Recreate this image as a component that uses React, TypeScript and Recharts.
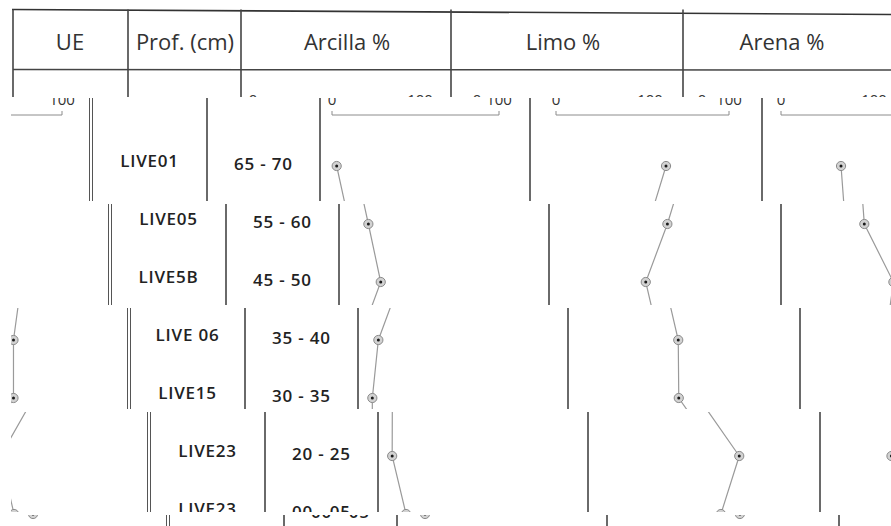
import React from 'react';
import { LineChart, Line, XAxis, YAxis } from 'recharts';

// table content
const HEADERS = ['UE', 'Prof. (cm)', 'Arcilla %', 'Limo %', 'Arena %'];
const UE = ['LIVE01', 'LIVE05', 'LIVE5B', 'LIVE 06', 'LIVE15', 'LIVE23', 'LIVE23'];
const PROF = ['65 - 70', '55 - 60', '45 - 50', '35 - 40', '30 - 35', '20 - 25', '00 - 05'];
const ARCILLA = [2.8, 10.4, 17.8, 5.0, 1.4, 1.3, 9.6];
const LIMO = [63.6, 53.4, 40.9, 48.7, 49.0, 72.4, 61.8];
const ARENA = [34.9, 37.4, 54.3, 49.7, 49.7, 30.5, 38.4];
const PCT_TICKS = [0, 100];

const rows = PROF.map((prof, i) => ({
  row: i,
  ue: UE[i],
  prof,
  arcilla: ARCILLA[i],
  limo: LIMO[i],
  arena: ARENA[i],
}));
const ROW_IDX = rows.map((r) => r.row);

// layout
const W = 891;
const H = 560;
const FONT = '"Open Sans", sans-serif';
const AXIS_Y = 115; // the 0-100 scale line
const ROW_TOP = 137;
const ROW_BOTTOM = 543;
const COL_X = [13, 128, 241, 451, 683];
const HEADER_X = [70, 185, 347, 563, 782];
const LEFT_BLANK = 11; // wrapped part of a strip starts after this blank edge

// the scan is cut into strips, each one slid to the right and wrapped round
const STRIPS = [
  { top: 0, bottom: 97, shift: 0 },
  { top: 98, bottom: 201, shift: 79 },
  { top: 204, bottom: 305, shift: 98 },
  { top: 308, bottom: 409, shift: 117 },
  { top: 412, bottom: 512, shift: 136.5 },
  { top: 515, bottom: 526, shift: 156 },
];

const Marker = (props: any) => {
  const { cx, cy } = props;
  if (cx == null || cy == null) return null;
  return (
    <g>
      <circle cx={cx} cy={cy} r={4.6} fill="#d2d2d2" stroke="#8a8a8a" strokeWidth={1} />
      <circle cx={cx} cy={cy} r={1.5} fill="#1a1a1a" />
    </g>
  );
};

const LabelColumn = ({ left, right, labels, dy }: { left: number; right: number; labels: string[]; dy: number }) => {
  const w = right - left;
  return (
    <div style={{ position: 'absolute', left, top: 0 }}>
      <LineChart
        width={w}
        height={H}
        data={rows}
        layout="vertical"
        margin={{ top: AXIS_Y, right: 0, left: 0, bottom: H - ROW_BOTTOM }}
      >
        <XAxis type="number" hide domain={[0, 100]} />
        <YAxis
          type="number"
          dataKey="row"
          domain={[-0.5, 6.5]}
          ticks={ROW_IDX}
          interval={0}
          width={w}
          padding={{ top: ROW_TOP - AXIS_Y, bottom: 0 }}
          axisLine={false}
          tickLine={false}
          tick={(p: any) => (
            <text
              key={p.index}
              x={w / 2}
              y={p.y + dy}
              textAnchor="middle"
              fontFamily={FONT}
              fontSize={17}
              fontWeight={600}
              letterSpacing={0.8}
              fill="#222"
            >
              {labels[p.payload.value]}
            </text>
          )}
        />
      </LineChart>
    </div>
  );
};

const Profile = ({ dataKey, left, right, x0, x1 }: { dataKey: string; left: number; right: number; x0: number; x1: number }) => (
  <div style={{ position: 'absolute', left, top: 0 }}>
    <LineChart
      width={right - left}
      height={H}
      data={rows}
      layout="vertical"
      margin={{ top: AXIS_Y - 30, right: right - x1, left: x0 - left, bottom: H - ROW_BOTTOM }}
    >
      <XAxis
        type="number"
        orientation="top"
        domain={[0, 100]}
        ticks={PCT_TICKS}
        interval={0}
        height={30}
        axisLine={{ stroke: '#8c8c8c' }}
        tickLine={{ stroke: '#8c8c8c' }}
        tickSize={4}
        tickMargin={6}
        tick={{ fill: '#333', fontSize: 15, fontFamily: FONT }}
      />
      <YAxis
        type="number"
        dataKey="row"
        hide
        domain={[-0.5, 6.5]}
        padding={{ top: ROW_TOP - AXIS_Y, bottom: 0 }}
      />
      <Line
        dataKey={dataKey}
        stroke="#9a9a9a"
        strokeWidth={1.2}
        dot={(p: any) => <Marker key={p.index} {...p} />}
        activeDot={false}
        isAnimationActive={false}
      />
    </LineChart>
  </div>
);

const Table = () => (
  <div style={{ position: 'relative', width: W, height: H, fontFamily: FONT }}>
    <svg width={W} height={H} style={{ position: 'absolute', left: 0, top: 0 }}>
      <line x1={12} y1={9.5} x2={W} y2={14.5} stroke="#333" strokeWidth={1.6} />
      <line x1={13} y1={69.5} x2={W} y2={70} stroke="#444" strokeWidth={1.5} />
      {COL_X.map((x) => (
        <line key={'h' + x} x1={x} y1={9.5} x2={x} y2={97} stroke="#444" strokeWidth={1.6} />
      ))}
      {COL_X.slice(1).map((x) => (
        <line key={'b' + x} x1={x} y1={97} x2={x} y2={H} stroke="#6a6a6a" strokeWidth={2} />
      ))}
      <line x1={10.5} y1={97} x2={10.5} y2={H} stroke="#555" strokeWidth={1} />
      <line x1={13.5} y1={97} x2={13.5} y2={H} stroke="#555" strokeWidth={1} />
      {HEADERS.map((h, i) => (
        <text key={h} x={HEADER_X[i]} y={50} textAnchor="middle" fontFamily={FONT} fontSize={22} fill="#333">
          {h}
        </text>
      ))}
    </svg>
    <LabelColumn left={COL_X[0]} right={COL_X[1]} labels={UE} dy={1} />
    <LabelColumn left={COL_X[1]} right={COL_X[2]} labels={PROF} dy={4} />
    <Profile dataKey="arcilla" left={COL_X[2]} right={COL_X[3]} x0={253} x1={420} />
    <Profile dataKey="limo" left={COL_X[3]} right={COL_X[4]} x0={477} x1={650} />
    <Profile dataKey="arena" left={COL_X[4]} right={W} x0={702} x1={874} />
  </div>
);

export default function App() {
  return (
    <div
      style={{
        position: 'absolute',
        left: 0,
        top: 0,
        width: W,
        height: 526,
        overflow: 'hidden',
        background: '#fff',
      }}
    >
      {STRIPS.map((s, i) => (
        <div
          key={i}
          style={{
            position: 'absolute',
            left: 0,
            top: s.top,
            width: W,
            height: s.bottom - s.top,
            overflow: 'hidden',
          }}
        >
          <div style={{ position: 'absolute', left: s.shift, top: -s.top }}>
            <Table />
          </div>
          {s.shift > 0 && (
            <div
              style={{
                position: 'absolute',
                left: LEFT_BLANK,
                top: 0,
                width: s.shift - LEFT_BLANK,
                height: s.bottom - s.top,
                overflow: 'hidden',
              }}
            >
              <div style={{ position: 'absolute', left: s.shift - W - LEFT_BLANK, top: -s.top }}>
                <Table />
              </div>
            </div>
          )}
        </div>
      ))}
    </div>
  );
}
